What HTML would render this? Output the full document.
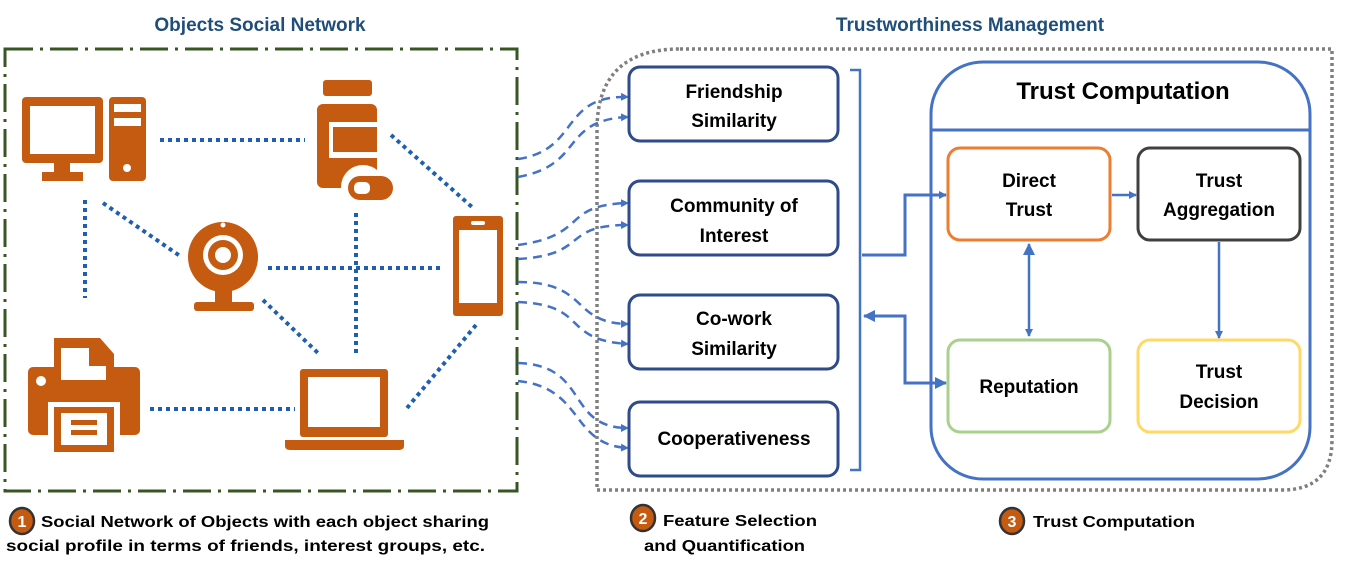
<!DOCTYPE html>
<html><head><meta charset="utf-8"><style>body{margin:0;background:#fff}svg{display:block}text{font-family:"Liberation Sans",sans-serif;font-weight:bold}</style></head><body>
<svg width="1354" height="577" viewBox="0 0 1354 577" xmlns="http://www.w3.org/2000/svg">
<defs>
<marker id="a" markerWidth="8" markerHeight="8" refX="7" refY="4" orient="auto" markerUnits="userSpaceOnUse"><path d="M0,0 L8,4 L0,8 Z" fill="#4472c4"/></marker>
<marker id="b" markerWidth="12" markerHeight="12" refX="11" refY="6" orient="auto" markerUnits="userSpaceOnUse"><path d="M0,0 L12,6 L0,12 Z" fill="#4472c4"/></marker>
<marker id="bs" markerWidth="12" markerHeight="12" refX="1" refY="6" orient="auto" markerUnits="userSpaceOnUse"><path d="M12,0 L0,6 L12,12 Z" fill="#4472c4"/></marker>
</defs>
<text x="260" y="31" font-size="19" fill="#1f4e79" text-anchor="middle">Objects Social Network</text>
<text x="970" y="31" font-size="19" fill="#1f4e79" text-anchor="middle">Trustworthiness Management</text>
<rect x="5" y="49" width="512" height="442" fill="none" stroke="#375623" stroke-width="3" stroke-dasharray="28,7,3,7"/>
<path d="M680,49 H1332 V440 Q1332,490 1282,490 H597 V130 Q597,49 680,49 Z" fill="none" stroke="#7f7f7f" stroke-width="3.5" stroke-dasharray="3,3"/>
<g stroke="#1f5fb0" stroke-width="4" stroke-dasharray="4,4" fill="none">
<path d="M160,140 H305"/><path d="M85,200 V298"/><path d="M103,203 L180,256"/><path d="M268,268 H440"/><path d="M356,213 V355"/><path d="M263,300 L320,355"/><path d="M391,135 L472,207"/><path d="M476,325 L407,408"/><path d="M150,409 H295"/>
</g>
<g fill="#c55a11">
<rect x="22" y="97" width="81" height="66" rx="4"/><rect x="30" y="106" width="65" height="48" fill="#fff"/><rect x="54" y="163" width="16" height="10"/><rect x="42" y="172" width="41" height="9"/>
<rect x="109" y="97" width="37" height="84" rx="4"/><rect x="114" y="104" width="27" height="8" fill="#fff"/><rect x="114" y="118" width="27" height="8" fill="#fff"/><circle cx="127" cy="168" r="4" fill="#fff"/>
<rect x="323" y="80" width="49" height="16" rx="3"/><rect x="317" y="104" width="60" height="84" rx="6"/><rect x="329" y="122" width="48" height="36" fill="#fff"/><rect x="333" y="127" width="44" height="25"/>
<circle cx="363" cy="187" r="22" fill="#fff"/><rect x="348" y="176" width="45" height="24" rx="12"/><rect x="354" y="182" width="16" height="12" rx="5" fill="#fff"/>
<circle cx="223" cy="257" r="35"/><circle cx="223" cy="255" r="20" fill="#fff"/><circle cx="223" cy="255" r="15"/><circle cx="223" cy="255" r="8" fill="#fff"/><circle cx="223" cy="225" r="2.5" fill="#fff"/><rect x="215" y="290" width="17" height="12"/><rect x="194" y="302" width="60" height="9" rx="3"/>
<rect x="453" y="216" width="50" height="100" rx="3"/><rect x="459" y="230" width="38" height="73" fill="#fff"/><rect x="471" y="221" width="14" height="4" rx="2" fill="#fff"/>
<rect x="28" y="367" width="112" height="68" rx="5"/><path d="M54,338 H100 L114,354 V380 H54 Z"/><path d="M61,348 H89 V366 H106 V380 H61 Z" fill="#fff"/><circle cx="41" cy="381" r="5" fill="#fff"/><rect x="48" y="402" width="72" height="50" fill="#fff"/><rect x="54" y="407" width="60" height="45"/><rect x="61" y="413" width="46" height="32" fill="#fff"/><rect x="71" y="420" width="26" height="5"/><rect x="71" y="430" width="26" height="5"/>
<rect x="300" y="369" width="88" height="68" rx="3"/><rect x="308" y="377" width="72" height="50" fill="#fff"/><path d="M285,440 H404 V446 Q404,450 398,450 H291 Q285,450 285,446 Z"/>
</g>
<g stroke="#4472c4" stroke-width="2.5" stroke-dasharray="9,6" fill="none" marker-end="url(#a)">
<path d="M518,159 C580,150 560,95 628,97"/><path d="M518,177 C585,165 560,120 628,117"/>
<path d="M518,245 C590,235 560,205 628,203"/><path d="M518,259 C590,255 560,225 628,225"/>
<path d="M518,282 C590,282 570,323 628,324"/><path d="M518,302 C590,305 560,340 628,344"/>
<path d="M518,363 C590,365 565,428 628,428"/><path d="M518,381 C585,388 570,445 628,448"/>
</g>
<g fill="#fff" stroke="#2f4b8a" stroke-width="3">
<rect x="629" y="67" width="209" height="74" rx="11"/><rect x="629" y="181" width="209" height="74" rx="11"/><rect x="629" y="295" width="209" height="74" rx="11"/><rect x="629" y="402" width="209" height="74" rx="11"/>
</g>
<g font-size="19" text-anchor="middle" fill="#000">
<text x="734" y="98">Friendship</text><text x="734" y="127">Similarity</text>
<text x="734" y="212">Community of</text><text x="734" y="242">Interest</text>
<text x="734" y="325">Co-work</text><text x="734" y="355">Similarity</text>
<text x="734" y="445">Cooperativeness</text>
</g>
<path d="M850,70 H860 V470 H850" fill="none" stroke="#4472c4" stroke-width="2.5"/>
<rect x="931" y="62" width="379" height="417" rx="52" fill="#fff" stroke="#4472c4" stroke-width="3"/>
<line x1="932" y1="130" x2="1309" y2="130" stroke="#4472c4" stroke-width="3"/>
<text x="1123" y="99" font-size="24" text-anchor="middle">Trust Computation</text>
<rect x="948" y="148" width="162" height="92" rx="12" fill="#fff" stroke="#ed7d31" stroke-width="3"/>
<rect x="1138" y="148" width="162" height="92" rx="12" fill="#fff" stroke="#404040" stroke-width="3"/>
<rect x="948" y="340" width="162" height="92" rx="12" fill="#fff" stroke="#a9d18e" stroke-width="3"/>
<rect x="1138" y="340" width="162" height="92" rx="12" fill="#fff" stroke="#ffd966" stroke-width="3"/>
<path d="M862,255 H905 V195 H946" fill="none" stroke="#4472c4" stroke-width="3" marker-end="url(#a)"/>
<path d="M946,383 H905 V316 H864" fill="none" stroke="#4472c4" stroke-width="3" marker-end="url(#b)" marker-start="url(#bs)"/>
<g font-size="19" text-anchor="middle">
<text x="1029" y="187">Direct</text><text x="1029" y="216">Trust</text>
<text x="1219" y="187">Trust</text><text x="1219" y="216">Aggregation</text>
<text x="1029" y="393">Reputation</text>
<text x="1219" y="378">Trust</text><text x="1219" y="408">Decision</text>
</g>
<g stroke="#4472c4" stroke-width="2.5" fill="none">
<path d="M1112,195 H1136" marker-end="url(#a)"/>
<path d="M1219,242 V338" marker-end="url(#a)"/>
<path d="M1029,244 V336" marker-end="url(#a)" marker-start="url(#bs)"/>
</g>
<g fill="#c55a11" stroke="#333" stroke-width="2.5">
<ellipse cx="22" cy="521" rx="12" ry="13"/><ellipse cx="643" cy="518" rx="12" ry="13"/><ellipse cx="1012" cy="521" rx="12" ry="13"/>
</g>
<g font-size="16" fill="#fff" text-anchor="middle"><text x="22" y="527">1</text><text x="643" y="524">2</text><text x="1012" y="527">3</text></g>
<g font-size="16" fill="#000">
<text x="41" y="527" textLength="448" lengthAdjust="spacingAndGlyphs">Social Network of Objects with each object sharing</text>
<text x="6" y="551" textLength="479" lengthAdjust="spacingAndGlyphs">social profile in terms of friends, interest groups, etc.</text>
<text x="663" y="526" textLength="154" lengthAdjust="spacingAndGlyphs">Feature Selection</text>
<text x="644" y="551" textLength="161" lengthAdjust="spacingAndGlyphs">and Quantification</text>
<text x="1033" y="527" textLength="162" lengthAdjust="spacingAndGlyphs">Trust Computation</text>
</g>
</svg>
</body></html>
